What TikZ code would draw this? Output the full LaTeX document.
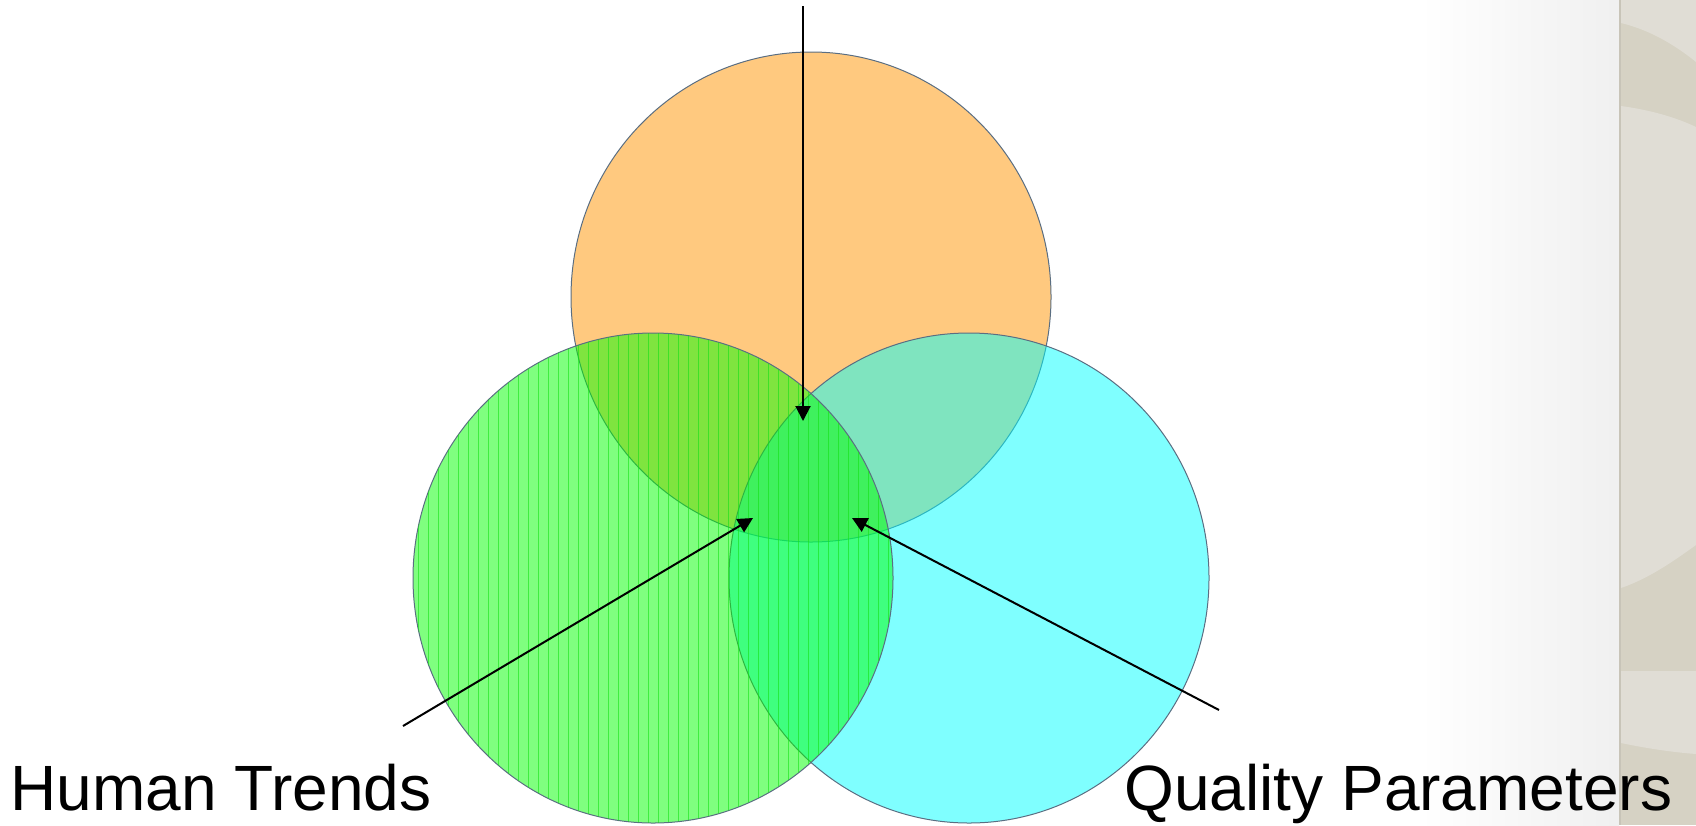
\documentclass[tikz,border=0pt]{standalone}
\usepackage{fontspec}
\setmainfont{Liberation Sans}
\usetikzlibrary{arrows.meta}
\definecolor{vorange}{RGB}{255,147,0}
\definecolor{vgreen}{RGB}{0,255,0}
\definecolor{vcyan}{RGB}{0,255,255}
\definecolor{stripegreen}{RGB}{20,225,20}
\definecolor{rimgray}{RGB}{90,110,130}
\definecolor{banddark}{RGB}{214,210,196}
\definecolor{bandlight}{RGB}{224,221,213}
\definecolor{bandline}{RGB}{200,196,184}
\begin{document}
\begin{tikzpicture}[x=0.5pt, y=-0.5pt, >={Triangle[length=7.5pt,width=7.5pt]},
	ring/.style={draw=rimgray, line width=0.5pt, fill opacity=0.5},
	stripe/.style={stripegreen, line width=0.5pt, opacity=0.6},
	pointer/.style={->, line width=1pt},
	tagtext/.style={inner sep=0pt, font=\fontsize{32}{38}\selectfont}]
	\useasboundingbox (0,0) rectangle (1696,825);
	% Right side band
	\shade[left color=white, right color=black!6] (1420,0) rectangle (1619,825);
	\fill[banddark] (1619,0) rectangle (1696,825);
	\fill[bandlight] (1621,0) -- (1621,23) .. controls (1650,30) and (1675,45) .. (1696,62) -- (1696,0) -- cycle;
	\fill[bandlight] (1621,106) .. controls (1650,110) and (1675,117) .. (1696,127) -- (1696,545) .. controls (1675,560) and (1650,578) .. (1621,588) -- cycle;
	\fill[bandlight] (1621,671) -- (1696,671) -- (1696,754) .. controls (1670,752) and (1645,748) .. (1621,743) -- cycle;
	\draw[bandline, line width=1pt] (1620,0) -- (1620,825);
	% Three sets
	\coordinate (ctop) at (811,297);
	\coordinate (cright) at (969,578);
	\coordinate (cleft) at (653,578);
	\filldraw[ring, fill=vorange] (ctop) ellipse [x radius=240, y radius=245];
	\filldraw[ring, fill=vcyan] (cright) ellipse [x radius=240, y radius=245];
	\filldraw[ring, fill=vgreen] (cleft) ellipse [x radius=240, y radius=245];
	% Stripes on the left set
	\begin{scope}
		\clip (cleft) ellipse [x radius=240, y radius=245];
		\foreach \x in {418,428,...,888} {
			\draw[stripe] (\x,330) -- (\x,825);
		}
	\end{scope}
	% Labels
	\node[tagtext, anchor=base west] (human) at (10,810) {Human Trends};
	\node[tagtext, anchor=base west] (quality) at (1124,810) {Quality Parameters};
	% Pointers into the middle
	\coordinate (topend) at (803,6);
	\coordinate (topTip) at (803,421);
	\coordinate (leftend) at (403,726);
	\coordinate (leftTip) at (753,518);
	\coordinate (rightend) at (1219,710);
	\coordinate (rightTip) at (852,518);
	\draw[pointer] (topend) -- (topTip);
	\draw[pointer] (leftend) -- (leftTip);
	\draw[pointer] (rightend) -- (rightTip);
\end{tikzpicture}
\end{document}
